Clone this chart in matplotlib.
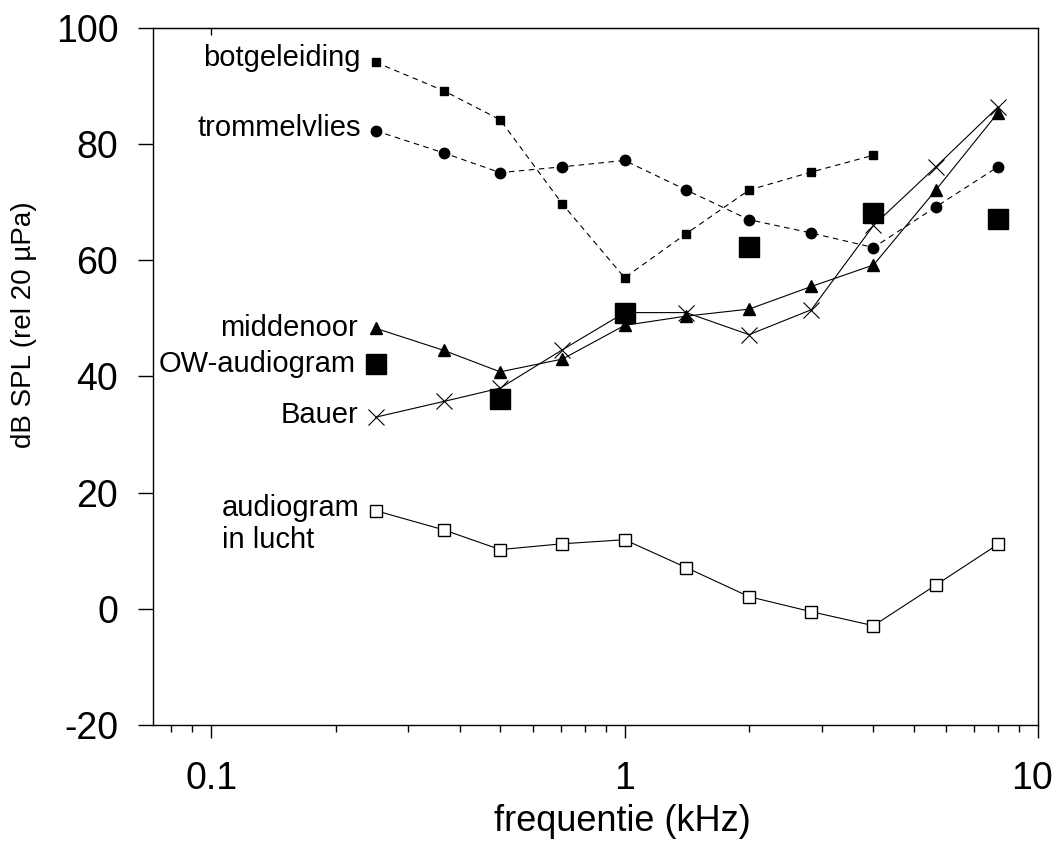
import matplotlib
matplotlib.use('Agg')
import matplotlib.pyplot as plt
from matplotlib.ticker import FixedLocator, LogLocator, NullFormatter, FuncFormatter
from matplotlib.transforms import ScaledTranslation

plt.rcParams['font.family'] = ['Liberation Sans', 'DejaVu Sans']
plt.rcParams['axes.unicode_minus'] = False

# frequencies in kHz (half-octave steps)
freq = [0.25, 0.365, 0.5, 0.707, 1, 1.41, 2, 2.83, 4, 5.66, 8]

botgeleiding = [94.1, 89.2, 84.2, 69.7, 57.0, 64.6, 72.1, 75.2, 78.1]
trommelvlies = [82.3, 78.5, 75.1, 76.1, 77.2, 72.1, 67.0, 64.7, 62.2, 69.2, 76.1]
middenoor = [48.3, 44.5, 40.8, 43.0, 48.8, 50.4, 51.6, 55.5, 59.2, 72.1, 85.4]
bauer = [33.0, 35.7, 38.0, 44.6, 51.0, 51.0, 47.2, 51.5, 66.0, 76.1, 86.4]
audiogram = [16.9, 13.6, 10.2, 11.2, 11.9, 7.1, 2.1, -0.5, -2.9, 4.1, 11.1]

ow_freq = [0.25, 0.5, 1, 2, 4, 8]
ow_audiogram = [42.2, 36.1, 51.0, 62.3, 68.2, 67.1]

fig = plt.figure(figsize=(10.56, 8.41), dpi=100)
ax = fig.add_axes([153 / 1056, 1 - 725 / 841, 885 / 1056, 697 / 841])
ax.set_xscale('log')
ax.set_xlim(0.0723, 10)
ax.set_ylim(-20, 100)

dash = (0, (5, 4))
ax.plot(freq[:len(botgeleiding)], botgeleiding, color='k', lw=0.8, ls=dash,
        marker='s', ms=6)
ax.plot(freq, trommelvlies, color='k', lw=0.8, ls=dash, marker='o', ms=7.5)
ax.plot(freq, middenoor, color='k', lw=0.8, marker='^', ms=9)
ax.plot(freq, bauer, color='k', lw=0.8, marker='x', ms=11, mew=0.8)
ax.plot(freq, audiogram, color='k', lw=0.8, marker='s', ms=8,
        mfc='white', mew=1)
ax.plot(ow_freq, ow_audiogram, ls='none', color='k', marker='s', ms=14)

# series labels next to the first point
lab = dict(textcoords='offset pixels', ha='right', fontsize=21)
ax.annotate('botgeleiding', (freq[0], botgeleiding[0]), xytext=(-15, 4), va='center', **lab)
ax.annotate('trommelvlies', (freq[0], trommelvlies[0]), xytext=(-15, 3), va='center', **lab)
ax.annotate('middenoor', (freq[0], middenoor[0]), xytext=(-18, 0), va='center', **lab)
ax.annotate('OW-audiogram', (ow_freq[0], ow_audiogram[0]), xytext=(-20, 0), va='center', **lab)
ax.annotate('Bauer', (freq[0], bauer[0]), xytext=(-17, 2), va='center', **lab)
ax.annotate('audiogram\nin lucht', (freq[0], audiogram[0]), xytext=(-16, 17),
            va='top', multialignment='left', linespacing=1.2, **lab)

for s in ax.spines.values():
    s.set_linewidth(1.0)

ax.yaxis.set_major_locator(FixedLocator(range(-20, 101, 20)))
ax.tick_params(axis='y', direction='out', length=11, width=1, labelsize=27, pad=14)

ax.xaxis.set_major_locator(FixedLocator([0.1, 1, 10]))
ax.xaxis.set_major_formatter(FuncFormatter(lambda v, _: f'{v:g}'))
ax.xaxis.set_minor_locator(LogLocator(base=10, subs=range(2, 10)))
ax.xaxis.set_minor_formatter(NullFormatter())
ax.tick_params(axis='x', which='major', direction='out', length=9, width=1,
               labelsize=27, pad=17)
ax.tick_params(axis='x', which='minor', direction='out', length=5, width=1)

top = ax.secondary_xaxis('top')
top.xaxis.set_major_locator(FixedLocator([0.1]))
top.xaxis.set_minor_locator(FixedLocator([]))
top.tick_params(direction='in', length=5, width=1, labeltop=False)

ax.set_xlabel('frequentie (kHz)', fontsize=26)
ax.xaxis.set_label_coords(0.530, -0.114)
ax.set_ylabel('dB SPL (rel 20 µPa)', fontsize=20)
ax.yaxis.set_label_coords(-0.131, 0.574)

# nudge the "10" label so it stays inside the figure
fig.canvas.draw()
last = ax.xaxis.get_major_ticks()[-1].label1
last.set_transform(last.get_transform() + ScaledTranslation(-6 / 100, 0, fig.dpi_scale_trans))

fig.savefig('out.png', dpi=100)
